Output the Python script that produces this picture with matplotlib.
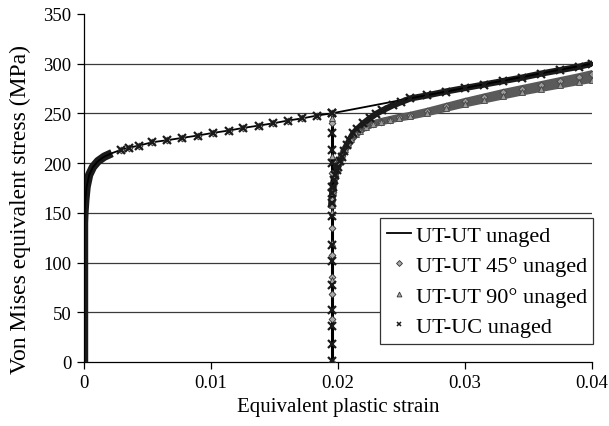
import matplotlib
matplotlib.use("Agg")
import matplotlib.pyplot as plt
from matplotlib.lines import Line2D

plt.rcParams['font.family'] = ['Liberation Serif', 'DejaVu Serif']

# first loading curve (shared by all four series)
load_strain = [0, 0, 0.00003, 0.0001, 0.0002, 0.0004, 0.0007, 0.0011, 0.0016, 0.0022,
               0.00294, 0.00354, 0.00433, 0.00538, 0.00654, 0.00775, 0.00895, 0.01016,
               0.01139, 0.01255, 0.01376, 0.01488, 0.01606, 0.0172, 0.01835, 0.0195]
load_stress = [0, 140, 150, 163, 176, 188, 196, 202, 206.5, 210,
               213.5, 215.5, 217.6, 221, 223, 225.4, 227.7, 230.4,
               232.7, 235.4, 237.7, 240, 242.8, 245, 247.8, 250]
n_dense = 10  # first points where the markers pile up into a band

# UT-UT unaged continues straight on
ut_strain = load_strain + [0.04]
ut_stress = load_stress + [300]

# unloading at the reversal strain
unload_strain = [0.0195, 0.0195]
unload_stress = [250, 0]
uc_unload = [250, 230, 213, 200, 176, 147, 118, 102, 77, 52, 36, 18, 1]
d45_unload = [240, 190, 163, 135, 108, 85, 68, 43, 0]
d90_unload = [245, 207, 151, 120, 82, 0]

# reloading curves
uc_strain = [0.0195, 0.01955, 0.0196, 0.01968, 0.01975, 0.0199, 0.0200, 0.02015, 0.0203,
             0.0205, 0.0207, 0.0209, 0.0212, 0.0215, 0.0220, 0.0225, 0.0230, 0.0235,
             0.0243, 0.0250, 0.0257, 0.0270, 0.0285, 0.0300, 0.0315, 0.0330, 0.0345,
             0.0360, 0.0375, 0.0390, 0.0400]
uc_stress = [160, 170, 176, 183, 188, 193, 196, 202, 206,
             212, 218, 223, 230, 234, 240, 245, 249.5, 253,
             258, 261.5, 265, 268, 272, 275.5, 279, 282.5, 286,
             290, 293.5, 297, 300]

d45_strain = [0.0195, 0.0196, 0.01975, 0.0199, 0.0201, 0.0203, 0.02053, 0.0208, 0.02106,
              0.0214, 0.0217, 0.0222, 0.02276, 0.0234, 0.02407, 0.0248, 0.02565, 0.0270,
              0.0285, 0.0300, 0.0315, 0.0330, 0.0345, 0.0360, 0.0375, 0.0390, 0.0400]
d45_stress = [158, 171, 187, 195, 201, 207, 214, 219, 224,
              229, 232.7, 236.5, 239.4, 241.8, 243.8, 246, 248, 252,
              257, 262, 266.5, 271, 275, 279, 283, 287, 290]
d90_stress = [158, 171, 187, 195, 201, 207, 214, 219, 224,
              229, 232.7, 236.5, 239.4, 241.5, 243.3, 245.3, 247, 250.5,
              255, 259.5, 263.5, 267.5, 271.5, 275, 278.5, 282, 284]

xticks = [0, 0.01, 0.02, 0.03, 0.04]
xtick_labels = ['0', '0.01', '0.02', '0.03', '0.04']
yticks = [0, 50, 100, 150, 200, 250, 300, 350]

dark = '#1a1a1a'
gray = '#5a5a5a'

fig = plt.figure(figsize=(6.09, 4.27), dpi=100)
ax = fig.add_axes([0.138, 0.150, 0.834, 0.815])

for y in yticks[1:-1]:
    ax.axhline(y, color='#3a3a3a', lw=0.9, zorder=0)

# thick band where markers are piled up
ax.plot(load_strain[:n_dense], load_stress[:n_dense], color=dark, lw=6,
        solid_capstyle='butt', zorder=2)
ax.plot(d45_strain, d45_stress, color=gray, lw=5, zorder=2)
ax.plot(d45_strain, d90_stress, color=gray, lw=5, zorder=2)
ax.plot(uc_strain, uc_stress, color=dark, lw=4.5, zorder=3)

ax.plot(ut_strain, ut_stress, color='black', lw=1.3, zorder=4)
ax.plot(unload_strain, unload_stress, color='black', lw=2.2, zorder=4)

ms_load = load_strain[n_dense:]
ms_stress = load_stress[n_dense:]
ax.plot(ms_load, ms_stress, ls='none', marker='D', ms=3.5, mfc='#aaaaaa', mec='#333333', mew=0.6, zorder=5)
ax.plot(ms_load, ms_stress, ls='none', marker='x', ms=5.5, mec=dark, mew=1.6, zorder=6)
ax.plot([0.0195] * len(d45_unload), d45_unload, ls='none', marker='D', ms=3.5, mfc='#aaaaaa',
        mec='#333333', mew=0.6, zorder=5)
ax.plot([0.0195] * len(d90_unload), d90_unload, ls='none', marker='^', ms=4, mfc='#aaaaaa',
        mec='#333333', mew=0.6, zorder=5)
ax.plot([0.0195] * len(uc_unload), uc_unload, ls='none', marker='x', ms=5.5, mec=dark, mew=1.6,
        zorder=6)
ax.plot(d45_strain, d45_stress, ls='none', marker='D', ms=3.5, mfc='#999999', mec='#444444', mew=0.6, zorder=5)
ax.plot(d45_strain, d90_stress, ls='none', marker='^', ms=4, mfc='#999999', mec='#444444', mew=0.6, zorder=5)
ax.plot(uc_strain, uc_stress, ls='none', marker='x', ms=5.5, mec=dark, mew=1.6, zorder=6)

ax.set_xlim(0, 0.04)
ax.set_ylim(0, 350)
ax.set_xticks(xticks)
ax.set_xticklabels(xtick_labels)
ax.set_yticks(yticks)
ax.tick_params(direction='out', length=5, width=0.9, labelsize=13.5, colors='black', pad=4)
for s in ['top', 'right']:
    ax.spines[s].set_visible(False)
for s in ['left', 'bottom']:
    ax.spines[s].set_linewidth(0.9)

ax.set_xlabel('Equivalent plastic strain', fontsize=15, labelpad=4)
ax.set_ylabel('Von Mises equivalent stress (MPa)', fontsize=17)
ax.yaxis.set_label_coords(-0.104, 0.44)

handles = [
    Line2D([], [], color='black', lw=1.3),
    Line2D([], [], ls='none', marker='D', ms=3, mfc='#aaaaaa', mec='#333333', mew=0.6),
    Line2D([], [], ls='none', marker='^', ms=3.5, mfc='#aaaaaa', mec='#333333', mew=0.6),
    Line2D([], [], ls='none', marker='x', ms=3.5, mec=dark, mew=1.1),
]
labels = ['UT-UT unaged', 'UT-UT 45° unaged', 'UT-UT 90° unaged', 'UT-UC unaged']
leg = ax.legend(handles, labels, loc='lower left', bbox_to_anchor=(0.583, 0.052),
                borderaxespad=0, fontsize=16, frameon=True, fancybox=False,
                edgecolor='#333333', framealpha=1, handlelength=1.1, handletextpad=0.2,
                labelspacing=0.45, borderpad=0.3)
leg.get_frame().set_linewidth(0.9)
leg.set_zorder(10)

fig.savefig('out.png', dpi=100)
